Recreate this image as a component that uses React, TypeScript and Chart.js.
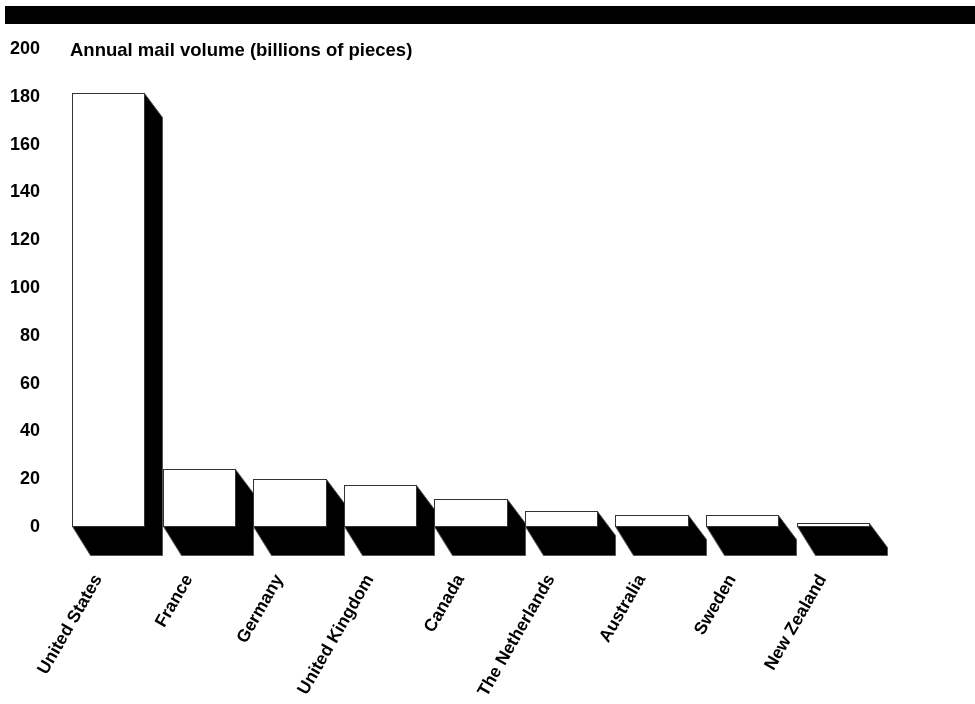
import React, { useEffect, useRef } from "react";
import { Chart, registerables } from "chart.js";

Chart.register(...registerables);

const categories = [
  "United States",
  "France",
  "Germany",
  "United Kingdom",
  "Canada",
  "The Netherlands",
  "Australia",
  "Sweden",
  "New Zealand",
];
const mailVolume = [181, 23.7, 19.7, 17.2, 11.2, 6.3, 4.5, 4.5, 1.1];
const yMin = 0;
const yMax = 200;
const yStep = 20;
const chartTitle = "Annual mail volume (billions of pieces)";

const FONT = "'Liberation Sans', Arial, Helvetica, sans-serif";
const DEPTH_X = 18;
const SIDE_DROP = 24;
const FLOOR_DROP = 29;

const bars3d = {
  id: "bars3d",
  beforeDraw(chart: any) {
    const ctx = chart.ctx;
    ctx.save();
    ctx.fillStyle = "#000";
    ctx.fillRect(5, 6, chart.width - 5, 18);
    ctx.restore();
  },
  afterDatasetsDraw(chart: any) {
    const ctx = chart.ctx;
    const meta = chart.getDatasetMeta(0);
    ctx.save();
    meta.data.forEach((el: any) => {
      const { x, y, base, width } = el.getProps(["x", "y", "base", "width"], true);
      const L = Math.round(x - width / 2) + 0.5;
      const R = Math.round(x + width / 2) + 0.5;
      const F = R - DEPTH_X;
      const T = Math.round(y) + 0.5;
      const B = Math.round(base) + 0.5;
      // side + floor shadow
      ctx.beginPath();
      ctx.moveTo(F, T);
      ctx.lineTo(R, T + SIDE_DROP);
      ctx.lineTo(R, B + FLOOR_DROP);
      ctx.lineTo(L + DEPTH_X, B + FLOOR_DROP);
      ctx.lineTo(L, B);
      ctx.lineTo(F, B);
      ctx.closePath();
      ctx.fillStyle = "#000";
      ctx.fill();
      ctx.strokeStyle = "#555";
      ctx.lineWidth = 1;
      ctx.stroke();
      // front face
      ctx.fillStyle = "#fff";
      ctx.fillRect(L, T, F - L, B - T);
      ctx.strokeStyle = "#333";
      ctx.strokeRect(L, T, F - L, B - T);
    });
    ctx.restore();
  },
  afterDraw(chart: any) {
    const ctx = chart.ctx;
    const yScale = chart.scales.y;
    ctx.save();
    ctx.fillStyle = "#000";
    ctx.font = `bold 18.5px ${FONT}`;
    ctx.textAlign = "left";
    ctx.textBaseline = "middle";
    ctx.fillText(chartTitle, chart.chartArea.left - 2, yScale.getPixelForValue(yMax) + 3);
    ctx.restore();
  },
};

export default function App() {
  const canvasRef = useRef<HTMLCanvasElement | null>(null);

  useEffect(() => {
    const canvas = canvasRef.current;
    if (!canvas) return;
    const chart = new Chart(canvas, {
      type: "bar",
      data: {
        labels: categories,
        datasets: [
          {
            label: chartTitle,
            data: mailVolume,
            backgroundColor: "rgba(0,0,0,0)",
            borderWidth: 0,
            barPercentage: 0.997,
            categoryPercentage: 1,
          },
        ],
      },
      options: {
        responsive: false,
        maintainAspectRatio: false,
        animation: false,
        devicePixelRatio: 1,
        layout: { padding: { top: 48, right: 88, bottom: 0, left: 0 } },
        plugins: {
          legend: { display: false },
          title: { display: false },
          tooltip: { enabled: false },
        },
        scales: {
          x: {
            grid: { display: false, drawTicks: false },
            border: { display: false },
            ticks: {
              autoSkip: false,
              minRotation: 60,
              maxRotation: 60,
              labelOffset: -19,
              padding: 45,
              color: "#000",
              font: { family: FONT, size: 17.5, weight: "bold" },
            },
            afterFit(scale: any) {
              scale.height = 178;
            },
          },
          y: {
            min: yMin,
            max: yMax,
            grid: { display: false, drawTicks: false },
            border: { display: false },
            ticks: {
              stepSize: yStep,
              padding: 32,
              labelOffset: 1,
              color: "#000",
              font: { family: FONT, size: 18, weight: "bold" },
            },
            afterFit(scale: any) {
              scale.width = 72;
            },
          },
        },
      },
      plugins: [bars3d],
    });
    return () => chart.destroy();
  }, []);

  return (
    <div style={{ position: "absolute", left: 0, top: 0, width: 975, height: 704, background: "#fff" }}>
      <canvas ref={canvasRef} width={975} height={704} style={{ display: "block" }} />
    </div>
  );
}
